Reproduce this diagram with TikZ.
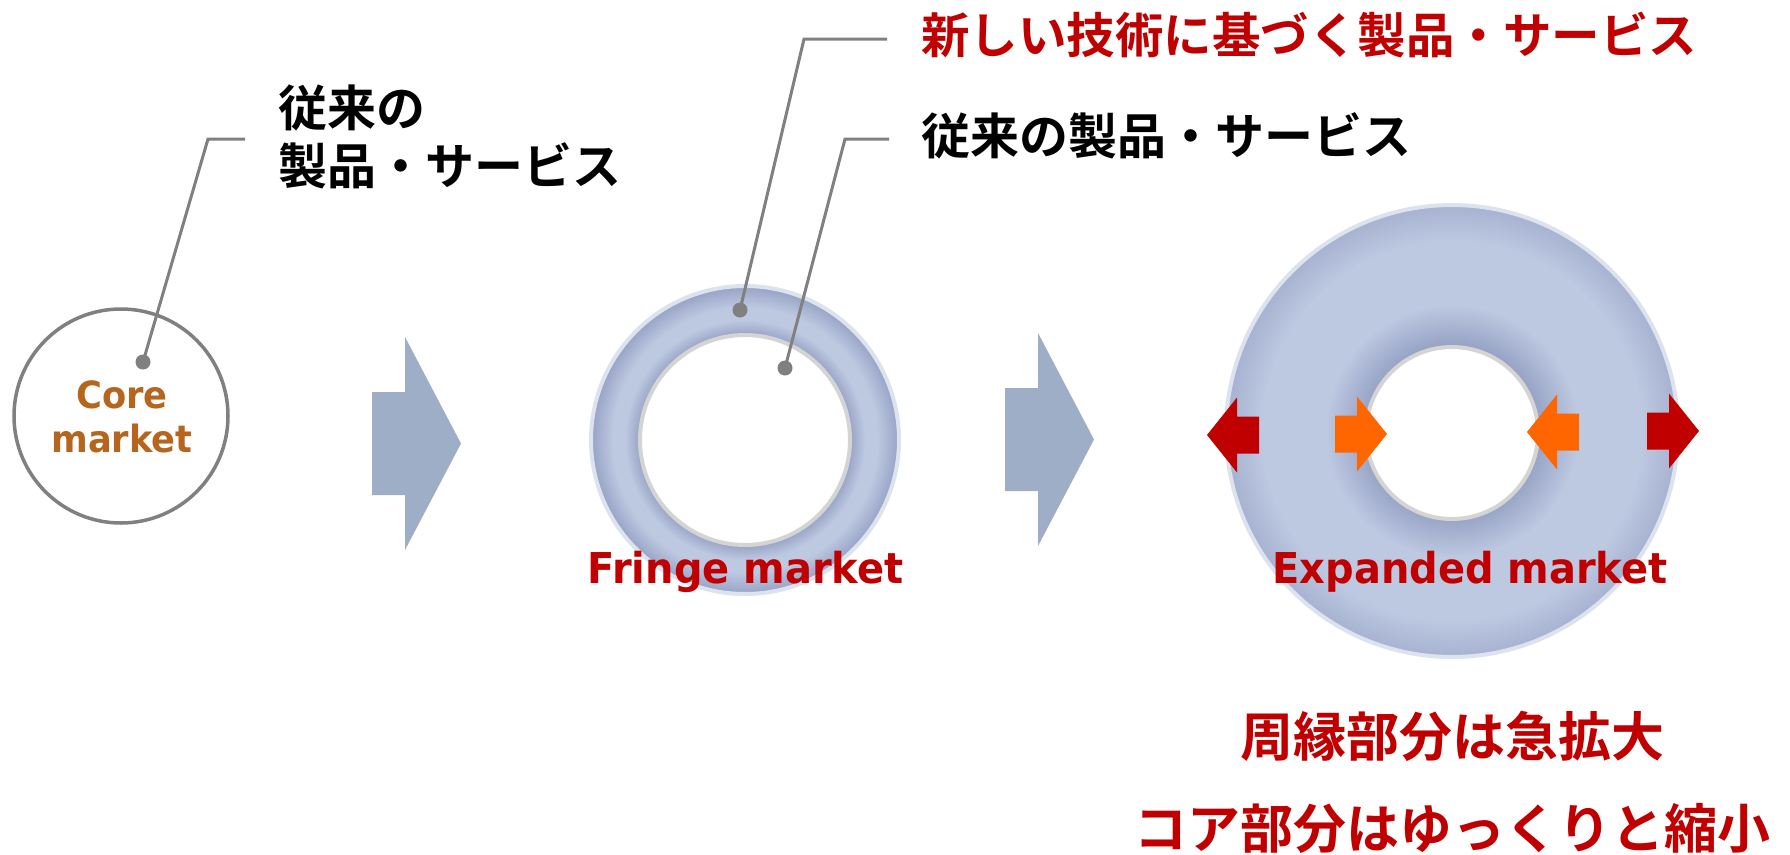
\documentclass[tikz,border=0pt]{standalone}
\usepackage{fontspec}
\newfontfamily\jpb{Noto Sans CJK JP Bold}
\newfontfamily\enf{DejaVu Sans}[FakeStretch=0.94]
\definecolor{rlight}{HTML}{BDC8E1}
\definecolor{rdark}{HTML}{97A3C5}
\definecolor{rmid}{HTML}{A6B2D0}
\definecolor{ringedge}{HTML}{DCE3EE}
\definecolor{holeedge}{HTML}{D4D4D4}
\definecolor{bigarrow}{HTML}{9DAEC6}
\definecolor{jred}{HTML}{C00000}
\definecolor{jorange}{HTML}{FF6600}
\definecolor{coretext}{HTML}{B5651D}
\definecolor{leadgray}{HTML}{808080}
\pgfdeclareradialshading{fringeshade}{\pgfpoint{0bp}{0bp}}{color(0bp)=(rdark);color(17bp)=(rdark);color(19.5bp)=(rlight);color(21.5bp)=(rlight);color(25bp)=(rdark);color(50bp)=(rdark)}
\pgfdeclareradialshading{expshade}{\pgfpoint{0bp}{0bp}}{color(0bp)=(rdark);color(9.5bp)=(rdark);color(14bp)=(rlight);color(21bp)=(rlight);color(25bp)=(rmid);color(50bp)=(rmid)}
\newcommand\smallarr[4]{%
  \fill[#4] ({#1},{#2}) -- ({#1-30*#3},{#2-37.5}) -- ({#1-30*#3},{#2-18.5}) -- ({#1-52*#3},{#2-18.5})
   -- ({#1-52*#3},{#2+18.5}) -- ({#1-30*#3},{#2+18.5}) -- ({#1-30*#3},{#2+37.5}) -- cycle;}
\begin{document}
\begin{tikzpicture}[x=1pt,y=-1pt,
  jptext/.style={font=\jpb\fontsize{49}{58}\selectfont, inner sep=0pt, align=left},
  jpbig/.style={font=\jpb\fontsize{53}{60}\selectfont, inner sep=0pt, text=jred},
  entext/.style={font=\enf\bfseries\fontsize{42.5}{48}\selectfont, inner sep=0pt, text=jred},
  leader/.style={draw=leadgray, line width=3pt},
  dotmark/.style={fill=leadgray},
  ringout/.style={draw=ringedge, line width=4pt},
  ringin/.style={draw=holeedge, line width=4pt},
  bigarr/.style={fill=bigarrow}]
\useasboundingbox (0,0) rectangle (1790,854);
\fill[white] (0,0) rectangle (1790,854);

% core market
\draw[draw=leadgray, line width=3.5pt] (121,416) circle[radius=107pt];
\node[font=\enf\bfseries\fontsize{37.5}{44}\selectfont, text=coretext, align=center, inner sep=0pt] (core) at (122,417) {Core\\market};

% arrow 1
\path[bigarr] (372,392) -- (405,392) -- (405,337) -- (461,443.5) -- (405,550) -- (405,495) -- (372,495) -- cycle;
% arrow 2
\path[bigarr] (1005,388) -- (1038,388) -- (1038,333) -- (1094,439.5) -- (1038,546) -- (1038,491) -- (1005,491) -- cycle;

% fringe ring
\path[shading=fringeshade, even odd rule] (745,440) circle[radius=154pt] (745,440) circle[radius=105pt];
\draw[ringout] (745,440) circle[radius=154pt];
\draw[ringin] (745,440) circle[radius=105pt];

% expanded ring
\path[shading=expshade, even odd rule] (1452,431) circle[radius=226pt] (1452,433) circle[radius=86pt];
\draw[ringout] (1452,431) circle[radius=226pt];
\draw[ringin] (1452,433) circle[radius=86pt];

% small arrows
\smallarr{1207}{435}{-1}{jred}
\smallarr{1387}{434}{1}{jorange}
\smallarr{1527}{432}{-1}{jorange}
\smallarr{1699}{431}{1}{jred}

% labels
\node[jptext, anchor=west] (lblold) at (278,137) {従来の\\製品・サービス};
\node[jptext, anchor=west, text=jred, font=\jpb\fontsize{48.5}{58}\selectfont] (lblnew) at (921,35) {新しい技術に基づく製品・サービス};
\node[jptext, anchor=west] (lbloldR) at (921,136) {従来の製品・サービス};

\node[entext, anchor=base] (fringe) at (745.5,583) {Fringe market};
\node[entext, anchor=base] (expanded) at (1470,583) {Expanded market};

\node[jpbig] (b1) at (1452,736) {周縁部分は急拡大};
\node[jpbig] (b2) at (1452,828) {コア部分はゆっくりと縮小};

% leaders
\coordinate (d1) at (143,362);
\coordinate (c1) at (208,139);
\coordinate (e1) at (245,139);
\draw[leader] (d1) -- (c1) -- (e1);
\fill[dotmark] (d1) circle[radius=7.5pt];

\coordinate (d2) at (740,310);
\coordinate (c2) at (804,39);
\coordinate (e2) at (887,39);
\draw[leader] (d2) -- (c2) -- (e2);
\fill[dotmark] (d2) circle[radius=7.5pt];

\coordinate (d3) at (785,368);
\coordinate (c3) at (845,139);
\coordinate (e3) at (889,139);
\draw[leader] (d3) -- (c3) -- (e3);
\fill[dotmark] (d3) circle[radius=7.5pt];
\end{tikzpicture}
\end{document}
